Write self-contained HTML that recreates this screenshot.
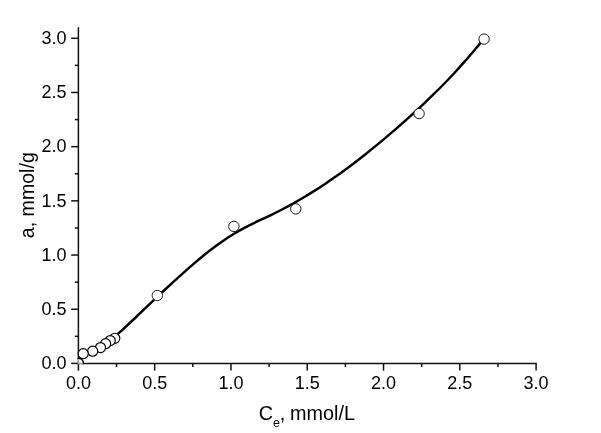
<!DOCTYPE html>
<html><head><meta charset="utf-8"><title>Isotherm</title>
<style>html,body{margin:0;padding:0;background:#fff;}svg{display:block;}text{font-family:"Liberation Sans",Arial,sans-serif;fill:#000;}</style></head><body>
<svg width="601" height="433" viewBox="0 0 601 433">
<rect width="601" height="433" fill="#fff"/>
<defs><clipPath id="plot"><rect x="77.60" y="0" width="600" height="364.20"/></clipPath></defs>
<path d="M114.60,337.09 C116.26,335.56 121.26,331.03 124.59,327.93 C127.92,324.83 131.24,321.68 134.57,318.51 C137.90,315.35 141.23,312.12 144.56,308.94 C147.89,305.75 151.22,302.55 154.55,299.40 C157.87,296.25 161.20,293.12 164.53,290.01 C167.86,286.91 171.19,283.82 174.52,280.78 C177.85,277.75 181.18,274.75 184.51,271.81 C187.83,268.86 191.16,265.95 194.49,263.11 C197.82,260.27 201.15,257.46 204.48,254.78 C207.81,252.09 211.14,249.49 214.46,247.01 C217.79,244.53 221.12,242.15 224.45,239.91 C227.78,237.67 231.11,235.56 234.44,233.56 C237.77,231.56 241.10,229.69 244.42,227.90 C247.75,226.12 251.08,224.48 254.41,222.85 C257.74,221.22 261.07,219.73 264.40,218.15 C267.73,216.57 271.05,215.01 274.38,213.37 C277.71,211.72 281.04,210.02 284.37,208.26 C287.70,206.50 291.03,204.69 294.36,202.82 C297.69,200.95 301.01,199.02 304.34,197.03 C307.67,195.04 311.00,192.99 314.33,190.89 C317.66,188.78 320.99,186.62 324.32,184.40 C327.65,182.17 330.97,179.89 334.30,177.56 C337.63,175.23 340.96,172.84 344.29,170.40 C347.62,167.97 350.95,165.48 354.28,162.94 C357.60,160.40 360.93,157.81 364.26,155.18 C367.59,152.55 370.92,149.87 374.25,147.15 C377.58,144.43 380.91,141.67 384.24,138.86 C387.56,136.06 390.89,133.22 394.22,130.34 C397.55,127.46 400.88,124.54 404.21,121.58 C407.54,118.62 410.87,115.63 414.19,112.59 C417.52,109.55 420.85,106.46 424.18,103.32 C427.51,100.17 430.84,96.98 434.17,93.72 C437.50,90.47 440.83,87.17 444.15,83.76 C447.48,80.36 450.81,76.88 454.14,73.28 C457.47,69.68 460.80,65.96 464.13,62.17 C467.46,58.39 470.78,54.49 474.11,50.58 C477.44,46.66 482.44,40.66 484.10,38.68" fill="none" stroke="#000" stroke-width="2.45" stroke-linecap="round" stroke-linejoin="round"/>
<g stroke="#111" stroke-width="1.50" fill="none">
<line x1="78.40" y1="27.2" x2="78.40" y2="364.15"/>
<line x1="77.65" y1="363.40" x2="536.85" y2="363.40"/>
<line x1="78.40" y1="363.40" x2="78.40" y2="370.60"/>
<line x1="78.40" y1="363.40" x2="71.20" y2="363.40"/>
<line x1="116.54" y1="363.40" x2="116.54" y2="367.00"/>
<line x1="78.40" y1="336.31" x2="74.80" y2="336.31"/>
<line x1="154.68" y1="363.40" x2="154.68" y2="370.60"/>
<line x1="78.40" y1="309.22" x2="71.20" y2="309.22"/>
<line x1="192.83" y1="363.40" x2="192.83" y2="367.00"/>
<line x1="78.40" y1="282.12" x2="74.80" y2="282.12"/>
<line x1="230.97" y1="363.40" x2="230.97" y2="370.60"/>
<line x1="78.40" y1="255.03" x2="71.20" y2="255.03"/>
<line x1="269.11" y1="363.40" x2="269.11" y2="367.00"/>
<line x1="78.40" y1="227.94" x2="74.80" y2="227.94"/>
<line x1="307.25" y1="363.40" x2="307.25" y2="370.60"/>
<line x1="78.40" y1="200.85" x2="71.20" y2="200.85"/>
<line x1="345.39" y1="363.40" x2="345.39" y2="367.00"/>
<line x1="78.40" y1="173.76" x2="74.80" y2="173.76"/>
<line x1="383.53" y1="363.40" x2="383.53" y2="370.60"/>
<line x1="78.40" y1="146.67" x2="71.20" y2="146.67"/>
<line x1="421.68" y1="363.40" x2="421.68" y2="367.00"/>
<line x1="78.40" y1="119.58" x2="74.80" y2="119.58"/>
<line x1="459.82" y1="363.40" x2="459.82" y2="370.60"/>
<line x1="78.40" y1="92.48" x2="71.20" y2="92.48"/>
<line x1="497.96" y1="363.40" x2="497.96" y2="367.00"/>
<line x1="78.40" y1="65.39" x2="74.80" y2="65.39"/>
<line x1="536.10" y1="363.40" x2="536.10" y2="370.60"/>
<line x1="78.40" y1="38.30" x2="71.20" y2="38.30"/>
</g>
<circle cx="78.40" cy="363.40" r="5.1" fill="#fff" fill-opacity="0.62" stroke="#000" stroke-width="1.3" clip-path="url(#plot)"/>
<g font-size="18">
<text x="78.40" y="389.20" text-anchor="middle">0.0</text>
<text x="66.60" y="369.10" text-anchor="end">0.0</text>
<text x="154.68" y="389.20" text-anchor="middle">0.5</text>
<text x="66.60" y="314.92" text-anchor="end">0.5</text>
<text x="230.97" y="389.20" text-anchor="middle">1.0</text>
<text x="66.60" y="260.73" text-anchor="end">1.0</text>
<text x="307.25" y="389.20" text-anchor="middle">1.5</text>
<text x="66.60" y="206.55" text-anchor="end">1.5</text>
<text x="383.53" y="389.20" text-anchor="middle">2.0</text>
<text x="66.60" y="152.37" text-anchor="end">2.0</text>
<text x="459.82" y="389.20" text-anchor="middle">2.5</text>
<text x="66.60" y="98.18" text-anchor="end">2.5</text>
<text x="536.10" y="389.20" text-anchor="middle">3.0</text>
<text x="66.60" y="44.00" text-anchor="end">3.0</text>
</g>
<text x="258.8" y="420.2" font-size="19.8">C<tspan font-size="12.5" dy="6.9">e</tspan><tspan dy="-6.9" dx="-0.4">,</tspan><tspan dx="-0.6"> mmol/L</tspan></text>
<text transform="translate(34.2,195.2) rotate(-90)" text-anchor="middle" font-size="19.6">a, mmol/g</text>
<g fill="#fff" stroke="#111" stroke-width="0.95">
<circle cx="484.10" cy="39.10" r="5.2"/>
<circle cx="419.10" cy="113.60" r="5.2"/>
<circle cx="295.80" cy="208.90" r="5.2"/>
<circle cx="233.90" cy="226.40" r="5.2"/>
<circle cx="157.30" cy="295.50" r="5.2"/>
<circle cx="114.80" cy="338.30" r="5.05" stroke-width="1.15" stroke="#000"/>
<circle cx="110.20" cy="340.60" r="5.05" stroke-width="1.15" stroke="#000"/>
<circle cx="105.60" cy="343.70" r="5.05" stroke-width="1.15" stroke="#000"/>
<circle cx="100.50" cy="347.60" r="5.05" stroke-width="1.15" stroke="#000"/>
<circle cx="92.70" cy="351.20" r="5.05" stroke-width="1.15" stroke="#000"/>
<circle cx="83.20" cy="353.70" r="5.05" stroke-width="1.15" stroke="#000"/>
</g>
</svg></body></html>
